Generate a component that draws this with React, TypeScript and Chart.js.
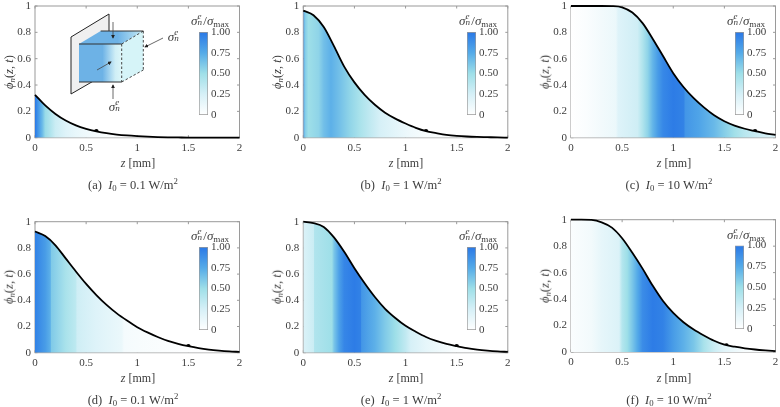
import { useEffect, useRef } from "react"
import { Chart, registerables } from "chart.js"
import type { Plugin } from "chart.js"

Chart.register(...registerables)

const SERIF = '"Liberation Serif", serif'
const INK = "#3c3c3c"
const FRAME = "#9a9a9a"

// z positions the curves were read at [mm]
const zGrid = [0, 0.1, 0.2, 0.3, 0.4, 0.5, 0.6, 0.7, 0.8, 0.9, 1, 1.1, 1.2, 1.3, 1.4, 1.5, 1.6, 1.7, 1.8, 1.9, 2]

const phiA = [0.325, 0.245, 0.18, 0.13, 0.093, 0.067, 0.048, 0.034, 0.024, 0.017, 0.012, 0.008, 0.005, 0.003, 0.002, 0.001, 0.001, 0, 0, 0, 0]
const phiB = [0.965, 0.93, 0.84, 0.695, 0.54, 0.42, 0.325, 0.25, 0.19, 0.145, 0.108, 0.075, 0.05, 0.035, 0.022, 0.014, 0.009, 0.006, 0.004, 0.002, 0.001]
const phiC = [1, 1, 1, 1, 0.999, 0.99, 0.95, 0.87, 0.75, 0.62, 0.49, 0.385, 0.3, 0.23, 0.17, 0.125, 0.092, 0.068, 0.05, 0.033, 0.022]
const phiD = [0.925, 0.89, 0.82, 0.72, 0.62, 0.525, 0.44, 0.365, 0.3, 0.245, 0.195, 0.155, 0.12, 0.09, 0.068, 0.05, 0.035, 0.024, 0.016, 0.01, 0.006]
const phiE = [1, 0.99, 0.96, 0.88, 0.77, 0.645, 0.53, 0.425, 0.335, 0.265, 0.205, 0.16, 0.12, 0.09, 0.067, 0.05, 0.035, 0.024, 0.016, 0.01, 0.006]
const phiF = [1, 1, 0.998, 0.98, 0.94, 0.86, 0.75, 0.63, 0.5, 0.385, 0.295, 0.225, 0.17, 0.125, 0.085, 0.055, 0.04, 0.028, 0.019, 0.012, 0.006]

// black dot on each curve
const markerZ = [0.6, 1.2, 1.8, 1.5, 1.5, 1.52]
const markerPhi = [0.05, 0.05, 0.05, 0.05, 0.05, 0.05]

// stress: position and value per panel
const sigmaZA = [0, 0.03, 0.07, 0.1, 0.15, 0.2, 0.3, 0.4, 0.5, 0.6, 0.8, 1, 2]
const sigmaA = [1, 0.85, 0.68, 0.52, 0.42, 0.3, 0.2, 0.14, 0.1, 0.06, 0.02, 0, 0]
const sigmaZB = [0, 0.015, 0.05, 0.15, 0.2, 0.27, 0.35, 0.45, 0.55, 0.65, 0.75, 0.9, 1.05, 1.2, 1.5, 2]
const sigmaB = [0.9, 0.6, 0.5, 0.55, 0.65, 0.72, 0.65, 0.55, 0.45, 0.35, 0.25, 0.17, 0.1, 0.05, 0.02, 0]
const sigmaZC = [0, 0.15, 0.3, 0.44, 0.46, 0.65, 0.7, 0.75, 0.8, 0.85, 0.9, 1, 1.1, 1.12, 1.25, 1.4, 1.5, 1.6, 1.7, 1.85, 2]
const sigmaC = [0, 0.03, 0.08, 0.12, 0.2, 0.28, 0.42, 0.55, 0.7, 0.82, 0.92, 0.98, 0.95, 0.85, 0.78, 0.68, 0.58, 0.48, 0.38, 0.28, 0.22]
const sigmaZD = [0, 0.1, 0.15, 0.16, 0.3, 0.4, 0.41, 0.6, 0.85, 0.87, 1, 1.5, 2]
const sigmaD = [0.95, 0.82, 0.72, 0.6, 0.45, 0.36, 0.28, 0.2, 0.12, 0.07, 0.05, 0.01, 0]
const sigmaZE = [0, 0.1, 0.11, 0.28, 0.3, 0.35, 0.4, 0.5, 0.56, 0.57, 0.7, 0.8, 0.9, 1, 1.05, 1.2, 1.5, 2]
const sigmaE = [0.22, 0.3, 0.42, 0.5, 0.62, 0.8, 0.93, 0.98, 0.95, 0.85, 0.72, 0.6, 0.5, 0.35, 0.25, 0.15, 0.03, 0]
const sigmaZF = [0, 0.2, 0.3, 0.47, 0.5, 0.55, 0.6, 0.65, 0.7, 0.8, 0.9, 1, 1.1, 1.2, 1.3, 1.4, 1.5, 1.7, 2]
const sigmaF = [0.03, 0.08, 0.15, 0.22, 0.4, 0.5, 0.62, 0.75, 0.9, 0.98, 0.95, 0.82, 0.72, 0.62, 0.45, 0.3, 0.18, 0.05, 0.02]

const colorbarTicks = [0, 0.25, 0.5, 0.75, 1]
const captions = ["(a)", "(b)", "(c)", "(d)", "(e)", "(f)"]
const intensities = ["0.1", "1", "10", "0.1", "1", "10"]

// colour map of the colour bar, low to high
const mapStops = [0, 0.25, 0.5, 0.75, 1]
const mapColors = [
  [255, 255, 255],
  [214, 240, 247],
  [158, 223, 232],
  [84, 170, 232],
  [42, 120, 230],
]

function sigmaColor(v: number) {
  const i = Math.min(Math.floor(v * 4), 3)
  const t = (v - mapStops[i]) / 0.25
  const c = mapColors[i].map((a, k) => Math.round(a + (mapColors[i + 1][k] - a) * t))
  return `rgb(${c[0]},${c[1]},${c[2]})`
}

// frame with short inward ticks on all four sides, under the curve
const framePlugin: Plugin = {
  id: "frame",
  beforeDatasetsDraw(chart) {
    const { ctx, chartArea: a, scales } = chart
    ctx.save()
    ctx.strokeStyle = FRAME
    ctx.lineWidth = 1
    ctx.strokeRect(a.left, a.top, a.right - a.left, a.bottom - a.top)
    ctx.beginPath()
    scales.x.ticks.forEach((t) => {
      const px = scales.x.getPixelForValue(t.value)
      ctx.moveTo(px, a.bottom)
      ctx.lineTo(px, a.bottom - 2.5)
      ctx.moveTo(px, a.top)
      ctx.lineTo(px, a.top + 2.5)
    })
    scales.y.ticks.forEach((t) => {
      const py = scales.y.getPixelForValue(t.value)
      ctx.moveTo(a.left, py)
      ctx.lineTo(a.left + 2.5, py)
      ctx.moveTo(a.right, py)
      ctx.lineTo(a.right - 2.5, py)
    })
    ctx.stroke()
    ctx.restore()
  },
}

type PhiProps = {
  left: number
  top: number
  plotLeft: number
  plotTop: number
  plotBottom: number
  phi: number[]
  sigmaZ: number[]
  sigma: number[]
  dotZ: number
  dotPhi: number
}

function PhiChart({ left, top, plotLeft, plotTop, plotBottom, phi, sigmaZ, sigma, dotZ, dotPhi }: PhiProps) {
  const canvasRef = useRef<HTMLCanvasElement>(null)
  const width = 244
  const height = 162

  useEffect(() => {
    if (!canvasRef.current) return
    const chart = new Chart(canvasRef.current, {
      type: "line",
      data: {
        datasets: [
          {
            data: zGrid.map((z, i) => ({ x: z, y: phi[i] })),
            borderColor: "#000",
            borderWidth: 1.8,
            pointRadius: 0,
            cubicInterpolationMode: "monotone",
            fill: "origin",
            clip: false,
            backgroundColor: (c: any) => {
              const { chartArea, scales, ctx } = c.chart
              if (!chartArea) return "transparent"
              const g = ctx.createLinearGradient(scales.x.getPixelForValue(0), 0, scales.x.getPixelForValue(2), 0)
              sigmaZ.forEach((z, i) => g.addColorStop(z / 2, sigmaColor(sigma[i])))
              return g
            },
          },
          {
            data: [{ x: dotZ, y: dotPhi }],
            showLine: false,
            pointRadius: 2.2,
            pointBackgroundColor: "#000",
            pointBorderWidth: 0,
            clip: false,
          },
        ],
      },
      options: {
        responsive: false,
        animation: false,
        layout: {
          padding: {
            left: 0,
            top: plotTop - top,
            right: left + width - plotLeft - 204.5,
            bottom: 0,
          },
        },
        plugins: { legend: { display: false }, tooltip: { enabled: false } },
        scales: {
          x: {
            type: "linear",
            min: 0,
            max: 2,
            afterFit: (s) => {
              s.height = top + height - plotBottom
              s.paddingLeft = 0
              s.paddingRight = 0
            },
            grid: { display: false, drawTicks: false },
            border: { display: false },
            ticks: {
              stepSize: 0.5,
              maxRotation: 0,
              autoSkip: false,
              padding: 4,
              color: INK,
              font: { family: SERIF, size: 11 },
              callback: (v) => String(v),
            },
          },
          y: {
            min: 0,
            max: 1,
            afterFit: (s) => {
              s.width = plotLeft - left
              s.paddingTop = 0
              s.paddingBottom = 0
            },
            grid: { display: false, drawTicks: false },
            border: { display: false },
            ticks: {
              stepSize: 0.2,
              autoSkip: false,
              padding: 4,
              color: INK,
              font: { family: SERIF, size: 11 },
              callback: (v) => String(Number(Number(v).toFixed(1))),
            },
          },
        },
      },
      plugins: [framePlugin],
    })
    return () => chart.destroy()
  }, [])

  return (
    <canvas
      ref={canvasRef}
      width={width}
      height={height}
      style={{ position: "absolute", left, top, width, height }}
    />
  )
}

type BarProps = { left: number; top: number; barTop: number; barBottom: number }

function ColorBar({ left, top, barTop, barBottom }: BarProps) {
  const canvasRef = useRef<HTMLCanvasElement>(null)
  const width = 44
  const height = 100

  useEffect(() => {
    if (!canvasRef.current) return
    const chart = new Chart(canvasRef.current, {
      type: "bar",
      data: {
        labels: ["sigma"],
        datasets: [
          {
            data: [[0, 1]],
            barPercentage: 1,
            categoryPercentage: 1,
            borderColor: FRAME,
            borderWidth: 1,
            borderSkipped: false,
            backgroundColor: (c: any) => {
              const { chartArea, scales, ctx } = c.chart
              if (!chartArea) return "transparent"
              const g = ctx.createLinearGradient(0, scales.y.getPixelForValue(0), 0, scales.y.getPixelForValue(1))
              mapStops.forEach((v) => g.addColorStop(v, sigmaColor(v)))
              return g
            },
          },
        ],
      },
      options: {
        responsive: false,
        animation: false,
        layout: { padding: { left: 0, top: barTop - top, right: 0, bottom: top + height - barBottom } },
        plugins: { legend: { display: false }, tooltip: { enabled: false } },
        scales: {
          x: {
            display: false,
            afterFit: (s) => {
              s.height = 0
            },
          },
          y: {
            position: "right",
            min: 0,
            max: 1,
            afterFit: (s) => {
              s.width = 35
              s.paddingTop = 0
              s.paddingBottom = 0
            },
            afterBuildTicks: (s) => {
              s.ticks = colorbarTicks.map((value) => ({ value }))
            },
            grid: { display: false, drawTicks: false },
            border: { display: false },
            ticks: {
              autoSkip: false,
              padding: 3,
              color: INK,
              font: { family: SERIF, size: 11 },
              callback: (v) => (Number(v) === 0 ? "0" : Number(v).toFixed(2)),
            },
          },
        },
      },
    })
    return () => chart.destroy()
  }, [])

  return (
    <canvas
      ref={canvasRef}
      width={width}
      height={height}
      style={{ position: "absolute", left, top, width, height }}
    />
  )
}

const textBase = {
  position: "absolute",
  fontFamily: SERIF,
  color: INK,
  whiteSpace: "nowrap",
  lineHeight: 1,
} as const

function Label({ x, y, size = 12, rotate = false, children }: any) {
  const rot = rotate ? " rotate(-90deg)" : ""
  return (
    <div style={{ ...textBase, left: x, top: y, fontSize: size, transform: `translate(-50%,-50%)${rot}` }}>
      {children}
    </div>
  )
}

const smallSub = { fontSize: "0.7em", position: "relative", top: "0.25em" } as const

// sigma with e above and n below
function SigmaEN() {
  return (
    <span>
      <i>σ</i>
      <span style={{ display: "inline-block", position: "relative", width: "0.45em", height: "1em" }}>
        <i style={{ position: "absolute", left: 0, top: "0", fontSize: "0.7em" }}>e</i>
        <i style={{ position: "absolute", left: 0, top: "0.7em", fontSize: "0.7em" }}>n</i>
      </span>
    </span>
  )
}

function Inset() {
  const arrows = [
    [113, 22, 113, 38],
    [163, 38, 145, 47],
    [97, 70, 111, 62],
    [113, 99, 113, 85],
  ]
  return (
    <svg width={110} height={100} viewBox="60 10 110 100" style={{ position: "absolute", left: 60, top: 10 }}>
      <defs>
        <linearGradient id="frontFace" x1="0" x2="1" y1="0" y2="0">
          <stop offset="0" stopColor="#6db2e6" />
          <stop offset="0.55" stopColor="#6db2e6" />
          <stop offset="0.85" stopColor="#cfeef6" />
          <stop offset="1" stopColor="#dcf6f9" />
        </linearGradient>
        <linearGradient id="topFace" x1="0" x2="1" y1="0" y2="0">
          <stop offset="0" stopColor="#6db2e6" />
          <stop offset="0.6" stopColor="#6db2e6" />
          <stop offset="1" stopColor="#c8ecf5" />
        </linearGradient>
        <marker id="head" markerWidth="5" markerHeight="5" refX="4" refY="2.5" orient="auto">
          <path d="M0,0 L5,2.5 L0,5 z" fill="#222" />
        </marker>
      </defs>
      <polygon points="71,37 109,14 109,72 71,94" fill="#f0f0f0" stroke="#222" strokeWidth={1} />
      <polygon points="79,44 100.7,31 143.3,31 121.7,44" fill="url(#topFace)" />
      <polygon points="121.7,44 143.3,31 143.3,70 121.7,82" fill="#d6f4f8" />
      <rect x={79} y={44} width={42.7} height={38} fill="url(#frontFace)" />
      <path d="M79,44 H121.7 M79,82 H121.7 M100.7,31 H143.3" stroke="#333" strokeWidth={1} fill="none" />
      <path
        d="M121.7,44 V82 M143.3,31 V70 M121.7,44 L143.3,31 M121.7,82 L143.3,70"
        stroke="#333"
        strokeWidth={0.9}
        strokeDasharray="2.5 2"
        fill="none"
      />
      {arrows.map((a, i) => (
        <line key={i} x1={a[0]} y1={a[1]} x2={a[2]} y2={a[3]} stroke="#444" strokeWidth={0.8} markerEnd="url(#head)" />
      ))}
    </svg>
  )
}

const panelLeft = [0, 268, 536, 0, 268, 536]
const panelTop = [0, 0, 0, 214, 214, 214]
const plotLefts = [35, 303.3, 571, 35, 303.3, 571]
const plotTops = [6, 6, 6, 221.7, 221.7, 219.7]
const plotBottoms = [137.7, 137.7, 137.7, 352.7, 352.7, 352]
const barTops = [32, 32, 32, 247, 247, 245.5]
const barBottoms = [115, 115, 115, 330, 330, 329]
const phis = [phiA, phiB, phiC, phiD, phiE, phiF]
const sigmaZs = [sigmaZA, sigmaZB, sigmaZC, sigmaZD, sigmaZE, sigmaZF]
const sigmas = [sigmaA, sigmaB, sigmaC, sigmaD, sigmaE, sigmaF]

export default function App() {
  return (
    <div style={{ position: "absolute", left: 0, top: 0, width: 780, height: 407, background: "#fff", overflow: "hidden" }}>
      {phis.map((phi, i) => {
        const dx = panelLeft[i]
        const rowTop = panelTop[i]
        return (
          <div key={i}>
            <PhiChart
              left={dx}
              top={rowTop}
              plotLeft={plotLefts[i]}
              plotTop={plotTops[i]}
              plotBottom={plotBottoms[i]}
              phi={phi}
              sigmaZ={sigmaZs[i]}
              sigma={sigmas[i]}
              dotZ={markerZ[i]}
              dotPhi={markerPhi[i]}
            />
            {i === 0 && <Inset />}
            <ColorBar left={dx + 199} top={Math.floor(barTops[i]) - 5} barTop={barTops[i]} barBottom={barBottoms[i]} />
            <Label x={dx + 210} y={barTops[i] - 12} size={13}>
              <SigmaEN />/<i>σ</i>
              <span style={smallSub}>max</span>
            </Label>
            <Label x={dx + 138} y={plotBottoms[i] + 25.5}>
              <i>z</i> [mm]
            </Label>
            <Label x={dx + 9} y={(plotTops[i] + plotBottoms[i]) / 2} size={12.5} rotate>
              <i>ϕ</i>
              <i style={smallSub}>n</i>(<i>z</i>, <i>t</i>)
            </Label>
            <Label x={dx + 133} y={i < 3 ? 185 : 400} size={12.5}>
              {captions[i]}&nbsp;&nbsp;<i>I</i>
              <span style={smallSub}>0</span> = {intensities[i]} W/m
              <sup style={{ fontSize: "0.7em", lineHeight: 0 }}>2</sup>
            </Label>
          </div>
        )
      })}
      <Label x={174} y={35} size={13}>
        <SigmaEN />
      </Label>
      <Label x={115} y={105} size={13}>
        <SigmaEN />
      </Label>
    </div>
  )
}
